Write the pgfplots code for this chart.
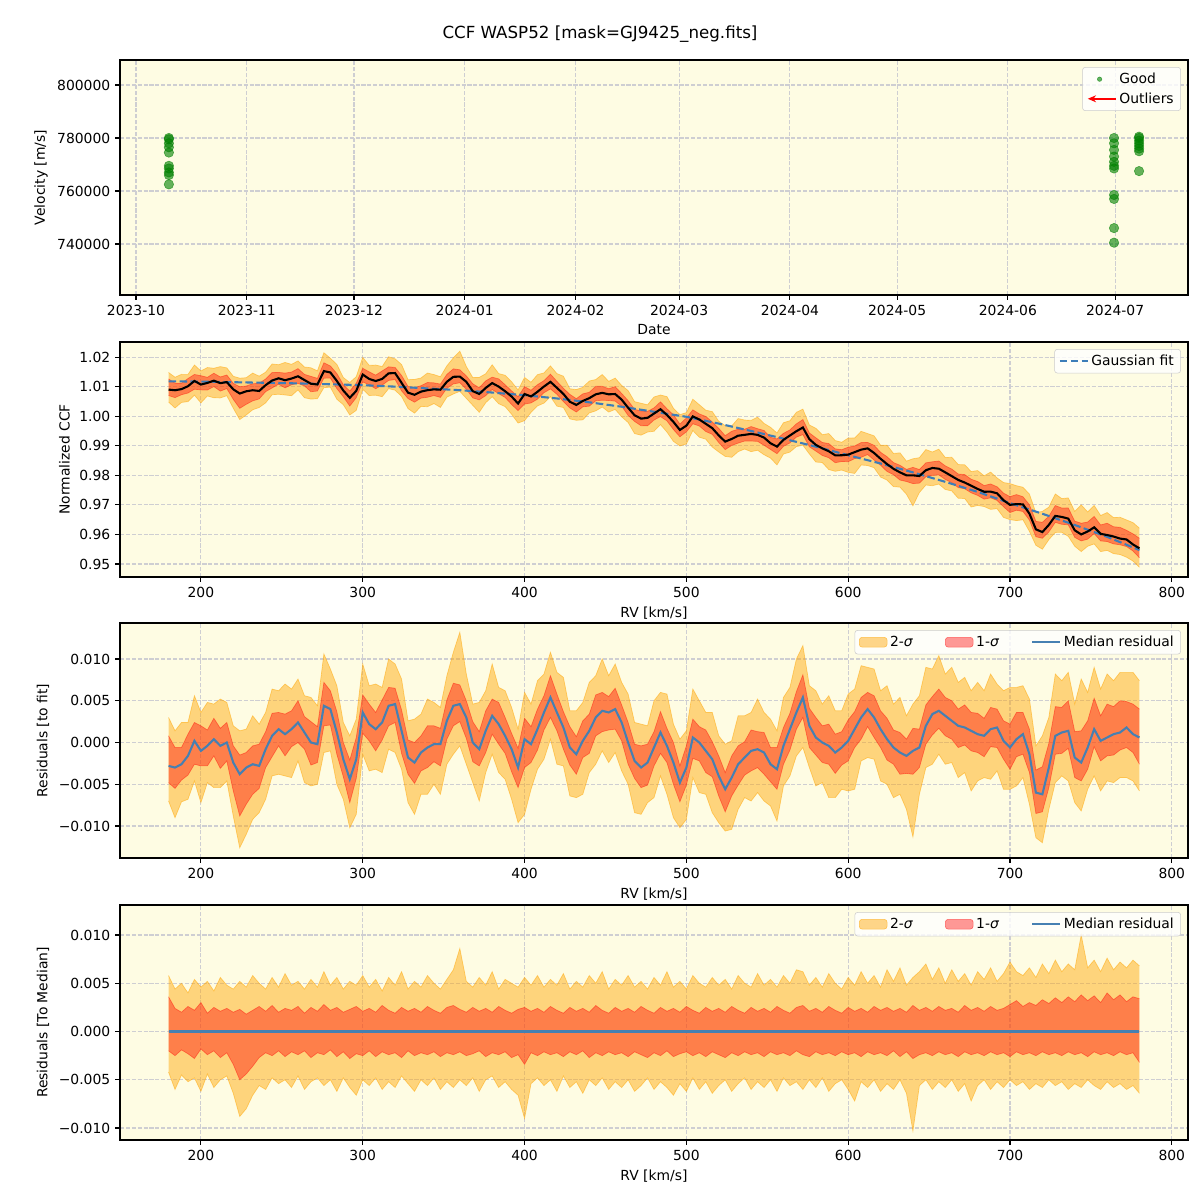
\documentclass[border=0pt]{standalone}
\usepackage{fontspec}
\setmainfont{DejaVu Sans}
\usepackage{pgfplots}
\pgfplotsset{compat=1.18}
\usepackage{pgfplotstable}
\usepgfplotslibrary{fillbetween}
\usetikzlibrary{arrows.meta}

\definecolor{bgyel}{RGB}{254,252,227}
\definecolor{band2}{RGB}{255,165,0}
\definecolor{band1}{RGB}{255,0,0}
\definecolor{medblue}{RGB}{70,128,178}
\definecolor{fitblue}{RGB}{60,125,185}
\definecolor{gridc}{RGB}{206,206,210}
\definecolor{ptgreen}{RGB}{0,128,0}
\definecolor{legc}{RGB}{204,204,204}

% x fit res a b c d   (res and offsets in units of 1e-4)
\pgfplotstableread{
x fit res a b c d
180 1.01180 -28 36 20 58 42
184 1.01178 -30 24 25 44 60
188 1.01176 -26 20 19 50 45
192 1.01174 -16 26 23 40 52
196 1.01172 2 22 28 54 48
200 1.01170 -10 30 18 46 62
204 1.01166 -4 19 24 52 44
208 1.01162 4 25 20 42 58
212 1.01158 -4 21 27 56 50
216 1.01154 0 24 22 48 46
220 1.01150 -24 20 34 44 64
224 1.01146 -38 23 50 52 88
228 1.01142 -30 18 44 46 80
232 1.01138 -26 22 36 58 66
236 1.01134 -28 26 27 50 56
240 1.01130 -8 21 22 44 60
244 1.01126 8 27 25 56 48
248 1.01122 16 20 20 46 54
252 1.01118 10 24 26 60 50
256 1.01114 16 22 21 48 58
260 1.01110 24 26 24 52 46
264 1.01104 12 19 20 44 60
268 1.01098 0 25 27 54 52
272 1.01092 -2 21 22 46 48
276 1.01086 44 28 24 62 56
280 1.01080 40 22 19 48 50
284 1.01074 12 25 26 56 62
288 1.01068 -20 20 21 44 48
292 1.01062 -44 23 28 52 58
296 1.01056 -20 26 23 48 66
300 1.01050 36 21 25 58 50
304 1.01040 22 24 20 46 56
308 1.01030 16 20 26 54 48
312 1.01020 24 27 21 42 60
316 1.01010 44 22 24 56 52
320 1.01000 46 19 22 48 58
324 1.00988 14 25 27 62 46
328 1.00976 -18 21 20 44 54
332 1.00964 -24 24 25 52 62
336 1.00952 -12 20 22 46 50
340 1.00940 -6 26 24 58 56
344 1.00928 -2 22 21 50 48
348 1.00916 -2 19 26 44 60
352 1.00904 26 25 22 54 52
356 1.00892 44 27 24 64 58
360 1.00880 46 23 21 86 50
364 1.00864 30 20 25 52 56
368 1.00848 0 25 23 46 48
372 1.00832 -8 21 20 56 62
376 1.00816 14 24 26 48 50
380 1.00800 32 20 22 62 46
384 1.00782 22 26 24 44 58
388 1.00764 8 22 21 54 52
392 1.00746 -8 19 27 50 60
396 1.00728 -30 23 24 46 66
400 1.00710 4 25 34 56 90
404 1.00688 -2 21 22 48 54
408 1.00666 16 24 25 58 48
412 1.00644 36 20 21 46 56
416 1.00622 54 26 24 54 50
420 1.00600 36 22 22 48 62
424 1.00574 18 19 26 60 46
428 1.00548 -6 25 21 44 58
432 1.00522 -14 21 24 52 52
436 1.00496 2 24 20 46 64
440 1.00470 14 20 27 58 50
444 1.00440 30 27 22 50 56
448 1.00410 38 22 25 62 48
452 1.00380 36 19 21 44 60
456 1.00350 40 25 24 54 52
460 1.00320 24 21 22 48 58
464 1.00286 0 24 26 58 50
468 1.00252 -22 20 21 46 62
472 1.00218 -30 26 24 52 56
476 1.00184 -24 22 27 44 48
480 1.00150 -6 19 22 56 60
484 1.00116 12 25 25 48 52
488 1.00082 -4 21 20 62 58
492 1.00048 -24 24 26 46 66
496 1.00014 -48 20 23 52 54
500 0.99980 -30 26 21 44 62
504 0.99934 6 22 25 58 48
508 0.99888 0 19 22 50 60
512 0.99842 -10 25 26 46 52
516 0.99796 -20 21 21 56 64
520 0.99750 -40 24 24 48 56
524 0.99700 -56 20 27 54 50
528 0.99650 -42 26 22 44 62
532 0.99600 -26 22 25 58 54
536 0.99550 -18 19 21 50 48
540 0.99500 -10 25 24 46 60
544 0.99448 -8 21 22 60 52
548 0.99396 -12 24 26 48 58
552 0.99344 -26 20 21 54 50
556 0.99292 -32 26 24 46 62
560 0.99240 -4 22 22 58 48
564 0.99186 16 19 25 50 56
568 0.99132 36 25 20 64 52
572 0.99078 54 27 24 62 60
576 0.99024 20 21 26 48 50
580 0.98970 6 24 21 56 58
584 0.98912 0 20 24 46 48
588 0.98854 -4 26 22 60 62
592 0.98796 -12 22 25 50 54
596 0.98738 -6 19 21 44 50
600 0.98680 2 25 24 56 60
604 0.98624 16 21 22 48 72
608 0.98568 30 24 26 62 52
612 0.98512 40 20 21 50 58
616 0.98456 30 26 24 58 50
620 0.98400 16 22 22 46 62
624 0.98340 4 25 25 64 54
628 0.98280 -6 21 20 52 60
632 0.98220 -12 24 26 66 50
636 0.98160 -16 20 21 48 64
640 0.98100 -10 27 28 56 103
644 0.98036 -6 22 24 62 56
648 0.97972 20 25 22 70 50
652 0.97908 34 21 25 54 60
656 0.97844 38 26 21 66 52
660 0.97780 32 22 24 50 58
664 0.97712 26 24 22 64 50
668 0.97644 20 20 26 52 62
672 0.97576 18 27 21 60 54
676 0.97508 14 22 24 48 72
680 0.97440 10 25 22 62 56
684 0.97364 8 21 25 54 50
688 0.97288 16 26 21 66 60
692 0.97212 18 22 24 52 52
696 0.97136 2 24 22 60 58
700 0.97060 -6 28 26 72 50
704 0.96988 4 32 21 62 56
708 0.96916 10 26 24 58 52
712 0.96844 -14 30 22 66 60
716 0.96772 -60 27 25 56 54
720 0.96700 -62 33 21 70 58
724 0.96624 -30 29 24 60 50
728 0.96548 8 35 22 74 56
732 0.96472 12 30 25 62 52
736 0.96396 14 36 21 70 60
740 0.96320 -18 31 24 64 54
744 0.96240 -24 38 22 100 58
748 0.96160 -6 32 26 66 50
752 0.96080 16 37 21 74 56
756 0.96000 2 30 24 62 60
760 0.95920 6 40 22 76 52
764 0.95830 10 33 25 64 58
768 0.95740 12 38 21 72 54
772 0.95650 18 31 24 66 60
776 0.95560 10 36 22 74 56
780 0.95470 6 34 32 68 64
}\ccfdata

\pgfplotsset{
  panel/.style={
    width=768.96pt, height=169.2pt, scale only axis,
    axis background/.style={fill=bgyel},
    grid=major,
    major grid style={gridc, line width=0.8pt, dash pattern=on 2.96pt off 1.28pt},
    tick pos=left, tick align=outside, major tick length=3.5pt,
    tick style={black, line width=0.8pt},
    axis line style={line width=0.8pt},
    scaled ticks=false,
    /pgf/number format/assume math mode=true,
    label style={font=\fontsize{10}{12}\selectfont},
    ticklabel style={font=\fontsize{10}{12}\selectfont},
    legend cell align=left,
    legend style={draw=legc, rounded corners=2pt, fill=white, fill opacity=0.8,
      text opacity=1, font=\fontsize{10}{12}\selectfont,
      at={(0.9934,0.970)}, anchor=north east},
  },
  rvpanel/.style={panel, xmin=150, xmax=810, xtick={200,300,400,500,600,700,800},
    xlabel={RV [km/s]}},
  resid/.style={ytick={-0.01,-0.005,0,0.005,0.01},
    yticklabels={−0.010,−0.005,0.000,0.005,0.010},
    legend columns=3,
    legend style={/tikz/every even column/.append style={column sep=21pt}}},
  patch2/.style={legend image code/.code={\draw[fill=band2, fill opacity=0.45, draw=band2, draw opacity=0.6] (0pt,-3.5pt) rectangle (20pt,3.5pt);}},
  patch1/.style={legend image code/.code={\draw[fill=band1, fill opacity=0.4, draw=band1, draw opacity=0.5] (0pt,-3.5pt) rectangle (20pt,3.5pt);}},
  medline/.style={legend image code/.code={\draw[medblue, line width=1.5pt] (0pt,0pt) -- (20pt,0pt);}},
}

\begin{document}
\begin{tikzpicture}
\node[font=\fontsize{12}{14}\selectfont] at (432pt,-24.5pt) {CCF WASP52 [mask=GJ9425\_neg.fits]};

% ---- panel 1: velocities over time (days since 2023-10-01)
\begin{axis}[panel, at={(86.4pt,-43.2pt)}, anchor=north west,
  xmin=-4.48, xmax=294.4, ymin=720755, ymax=809434,
  xtick={0,31,61,92,123,152,183,213,244,274},
  xticklabels={2023-10,2023-11,2023-12,2024-01,2024-02,2024-03,2024-04,2024-05,2024-06,2024-07},
  ytick={740000,760000,780000,800000},
  yticklabels={740000,760000,780000,800000},
  xlabel={Date}, ylabel={Velocity [m/s]},
  legend style={row sep=1pt}]
\addlegendimage{only marks, mark=*, mark size=1.6pt, ptgreen, fill opacity=0.6, draw opacity=0.6}
\addlegendentry{Good}
\addlegendimage{legend image code/.code={\draw[red, line width=1.5pt, -{Stealth[length=6pt,width=5pt]}] (20pt,0pt) -- (0pt,0pt);}}
\addlegendentry{Outliers}
\addplot[forget plot, only marks, mark=*, mark size=3.4pt, ptgreen,
  mark options={fill=ptgreen, fill opacity=0.6, draw opacity=0.6}] coordinates {
(9.2,762500) (9.2,766000) (9.2,767000) (9.2,768500) (9.2,769500)
(9.2,774500) (9.2,776500) (9.2,778000) (9.2,779500) (9.2,780000)
(273.7,780000) (273.7,778000) (273.7,775500) (273.7,773000) (273.7,771000)
(273.7,769500) (273.7,768500) (273.7,758500) (273.7,757000) (273.7,746000) (273.7,740500)
(280.7,780500) (280.7,780000) (280.7,779000) (280.7,778000) (280.7,777000)
(280.7,776000) (280.7,775000) (280.7,767500)
};
\end{axis}

% ---- panel 2: normalized CCF
\begin{axis}[rvpanel, at={(86.4pt,-246.24pt)}, anchor=north west,
  ymin=0.9456, ymax=1.0251,
  ytick={0.95,0.96,0.97,0.98,0.99,1.00,1.01,1.02},
  yticklabels={0.95,0.96,0.97,0.98,0.99,1.00,1.01,1.02},
  ylabel={Normalized CCF}]
\addlegendimage{legend image code/.code={\draw[fitblue, line width=1.5pt, dash pattern=on 5.5pt off 2.4pt] (0pt,0pt) -- (20pt,0pt);}}
\addlegendentry{Gaussian fit}
\addplot[forget plot, name path=u2, band2, draw opacity=0.5, line width=0.5pt] table[x=x, y expr={\thisrow{fit}+(\thisrow{res}+\thisrow{c})*0.0001}] {\ccfdata};
\addplot[forget plot, name path=l2, band2, draw opacity=0.5, line width=0.5pt] table[x=x, y expr={\thisrow{fit}+(\thisrow{res}-\thisrow{d})*0.0001}] {\ccfdata};
\addplot[forget plot, band2, fill opacity=0.45, draw=none] fill between[of=u2 and l2];
\addplot[forget plot, name path=u1, band1, draw opacity=0.4, line width=0.5pt] table[x=x, y expr={\thisrow{fit}+(\thisrow{res}+\thisrow{a})*0.0001}] {\ccfdata};
\addplot[forget plot, name path=l1, band1, draw opacity=0.4, line width=0.5pt] table[x=x, y expr={\thisrow{fit}+(\thisrow{res}-\thisrow{b})*0.0001}] {\ccfdata};
\addplot[forget plot, band1, fill opacity=0.4, draw=none] fill between[of=u1 and l1];
\addplot[forget plot, fitblue, line width=1.5pt, dash pattern=on 5.5pt off 2.4pt] table[x=x, y=fit] {\ccfdata};
\addplot[forget plot, black, line width=1.5pt] table[x=x, y expr={\thisrow{fit}+\thisrow{res}*0.0001}] {\ccfdata};
\end{axis}

% ---- panel 3: residuals to fit
\begin{axis}[rvpanel, resid, at={(86.4pt,-448.56pt)}, anchor=north west,
  ymin=-0.01383, ymax=0.01431, ylabel={Residuals [to fit]}]
\addlegendimage{patch2}\addlegendentry{2-\textit{σ}}
\addlegendimage{patch1}\addlegendentry{1-\textit{σ}}
\addlegendimage{medline}\addlegendentry{Median residual}
\addplot[forget plot, name path=u2, band2, draw opacity=0.5, line width=0.5pt] table[x=x, y expr={(\thisrow{res}+\thisrow{c})*0.0001}] {\ccfdata};
\addplot[forget plot, name path=l2, band2, draw opacity=0.5, line width=0.5pt] table[x=x, y expr={(\thisrow{res}-\thisrow{d})*0.0001}] {\ccfdata};
\addplot[forget plot, band2, fill opacity=0.45, draw=none] fill between[of=u2 and l2];
\addplot[forget plot, name path=u1, band1, draw opacity=0.4, line width=0.5pt] table[x=x, y expr={(\thisrow{res}+\thisrow{a})*0.0001}] {\ccfdata};
\addplot[forget plot, name path=l1, band1, draw opacity=0.4, line width=0.5pt] table[x=x, y expr={(\thisrow{res}-\thisrow{b})*0.0001}] {\ccfdata};
\addplot[forget plot, band1, fill opacity=0.4, draw=none] fill between[of=u1 and l1];
\addplot[forget plot, medblue, line width=1.5pt] table[x=x, y expr={\thisrow{res}*0.0001}] {\ccfdata};
\end{axis}

% ---- panel 4: residuals to median
\begin{axis}[rvpanel, resid, at={(86.4pt,-651.6pt)}, anchor=north west,
  ymin=-0.01124, ymax=0.01311, ylabel={Residuals [To Median]}]
\addlegendimage{patch2}\addlegendentry{2-\textit{σ}}
\addlegendimage{patch1}\addlegendentry{1-\textit{σ}}
\addlegendimage{medline}\addlegendentry{Median residual}
\addplot[forget plot, name path=u2, band2, draw opacity=0.5, line width=0.5pt] table[x=x, y expr={\thisrow{c}*0.0001}] {\ccfdata};
\addplot[forget plot, name path=l2, band2, draw opacity=0.5, line width=0.5pt] table[x=x, y expr={-\thisrow{d}*0.0001}] {\ccfdata};
\addplot[forget plot, band2, fill opacity=0.45, draw=none] fill between[of=u2 and l2];
\addplot[forget plot, name path=u1, band1, draw opacity=0.4, line width=0.5pt] table[x=x, y expr={\thisrow{a}*0.0001}] {\ccfdata};
\addplot[forget plot, name path=l1, band1, draw opacity=0.4, line width=0.5pt] table[x=x, y expr={-\thisrow{b}*0.0001}] {\ccfdata};
\addplot[forget plot, band1, fill opacity=0.4, draw=none] fill between[of=u1 and l1];
\addplot[forget plot, medblue, line width=1.5pt] table[x=x, y expr={0*\thisrow{res}}] {\ccfdata};
\end{axis}
\path (0,0) rectangle (864pt,-864pt);
\end{tikzpicture}
\end{document}
